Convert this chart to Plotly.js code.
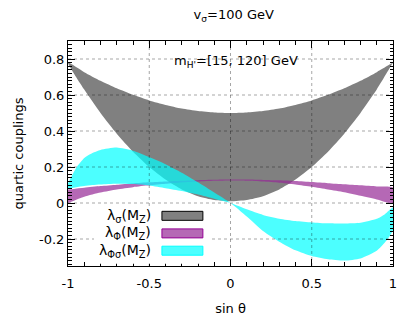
<!DOCTYPE html>
<html>
<head>
<meta charset="utf-8">
<script src="https://cdn.plot.ly/plotly-3.0.1.min.js"></script>
<style>html,body{margin:0;padding:0;background:#fff;}</style>
</head>
<body>
<div id="chart" style="width:407px;height:323px;"></div>
<script>
// sin(theta) sample points
const xGray = [-1,-0.9,-0.8,-0.7,-0.6,-0.5,-0.4,-0.3,-0.2,-0.1,0,0.1,0.2,0.3,0.4,0.5,0.6,0.7,0.8,0.9,1];
const sigmaUpper = [0.78,0.727,0.679,0.637,0.601,0.57,0.545,0.525,0.511,0.503,0.5,0.503,0.511,0.525,0.545,0.57,0.601,0.637,0.679,0.727,0.78];
const sigmaLower = [0.78,0.63,0.5,0.385,0.285,0.2,0.13,0.075,0.038,0.017,0.01,0.017,0.038,0.075,0.13,0.2,0.285,0.385,0.5,0.63,0.78];

const xPhi = [-1,-0.9,-0.8,-0.7,-0.6,-0.5,-0.4,-0.3,-0.2,-0.1,0,0.1,0.2,0.3,0.4,0.5,0.6,0.7,0.8,0.9,1];
const phiUpper = [0.075,0.085,0.094,0.102,0.109,0.115,0.12,0.124,0.127,0.129,0.13,0.13,0.128,0.126,0.122,0.116,0.11,0.104,0.098,0.092,0.085];
const phiLower = [0.0,0.035,0.058,0.075,0.088,0.098,0.107,0.114,0.119,0.123,0.125,0.124,0.12,0.113,0.103,0.09,0.075,0.06,0.04,0.02,0.0];

const xMix = [-1,-0.95,-0.9,-0.85,-0.8,-0.7,-0.6,-0.5,-0.4,-0.3,-0.2,-0.1,0,0.1,0.2,0.3,0.4,0.5,0.6,0.7,0.8,0.9,0.95,1];
const mixEdgeA = [0.11,0.195,0.25,0.278,0.295,0.308,0.29,0.255,0.215,0.168,0.115,0.058,0,-0.075,-0.155,-0.215,-0.263,-0.295,-0.313,-0.32,-0.308,-0.265,-0.22,-0.15];
const mixEdgeB = [0.08,0.088,0.095,0.1,0.103,0.107,0.105,0.097,0.082,0.066,0.047,0.024,0,-0.035,-0.066,-0.087,-0.1,-0.108,-0.113,-0.114,-0.11,-0.088,-0.062,-0.025];

const xTicks = [-1,-0.5,0,0.5,1];
const xTickText = ['-1','-0.5','0','0.5','1'];
const yTicks = [-0.2,0,0.2,0.4,0.6,0.8];
const yTickText = ['-0.2','0','0.2','0.4','0.6','0.8'];

const legendLabels = ['λ<sub>σ</sub>(M<sub>Z</sub>)','λ<sub>Φ</sub>(M<sub>Z</sub>)','λ<sub>Φσ</sub>(M<sub>Z</sub>)'];

const fills = ['rgb(128,128,128)','rgba(150,40,150,0.7)','rgba(0,255,255,0.7)'];
const borders = ['rgb(0,0,0)','rgb(150,0,150)','rgb(0,255,255)'];

function band(x, up, lo, color){
  return {
    x: x.concat(x.slice().reverse()),
    y: up.concat(lo.slice().reverse()),
    type:'scatter', mode:'lines', fill:'toself', fillcolor:color,
    line:{width:0, color:color, shape:'spline', smoothing:0.6}, hoverinfo:'skip', showlegend:false
  };
}

const data = [
  band(xGray, sigmaUpper, sigmaLower, fills[0]),
  band(xPhi, phiUpper, phiLower, fills[1]),
  band(xMix, mixEdgeA, mixEdgeB, fills[2])
];

const shapes = [];
const gridColor = 'rgba(0,0,0,0.35)';
xTicks.slice(1,-1).forEach(v => shapes.push({type:'line', xref:'x', yref:'paper', x0:v, x1:v, y0:0, y1:1, layer:'above', line:{color:gridColor, width:1, dash:'dot'}}));
yTicks.forEach(v => shapes.push({type:'line', xref:'paper', yref:'y', x0:0, x1:1, y0:v, y1:v, layer:'above', line:{color:gridColor, width:1, dash:'dot'}}));
// opaque legend background
shapes.push({type:'rect', xref:'paper', yref:'paper', x0:0.08, x1:0.44, y0:0.01, y1:0.26, layer:'above', fillcolor:'#fff', line:{width:0}});

const annotations = [
  {text:'m<sub>H\'</sub>=[15, 120] GeV', xref:'paper', yref:'paper', x:0.516, y:0.911, xanchor:'center', yanchor:'middle', showarrow:false, font:{family:'DejaVu Sans', size:13, color:'#000'}}
];
const rowY = [0.223, 0.145, 0.068];
legendLabels.forEach((t,i) => {
  annotations.push({text:t, xref:'paper', yref:'paper', x:0.262, y:rowY[i], xanchor:'right', yanchor:'middle', showarrow:false, font:{family:'DejaVu Sans', size:14, color:'#000'}});
  shapes.push({type:'rect', xref:'paper', yref:'paper', x0:0.289, x1:0.415, y0:rowY[i]-0.02, y1:rowY[i]+0.02, layer:'above', fillcolor:fills[i], line:{color:borders[i], width:1}});
});

const axFont = {family:'DejaVu Sans', size:13, color:'#000'};
const layout = {
  width:407, height:323,
  margin:{l:68, r:14, t:41, b:57},
  paper_bgcolor:'#fff', plot_bgcolor:'#fff',
  font: axFont,
  showlegend:false,
  title:{text:'v<sub>σ</sub>=100 GeV', xref:'paper', x:0.51, xanchor:'center', yref:'container', y:0.955, yanchor:'middle', font:axFont},
  xaxis:{
    range:[-1,1], tickmode:'array', tickvals:xTicks, ticktext:xTickText,
    ticks:'inside', ticklen:7, tickcolor:'#000', tickwidth:1, ticklabelstandoff:5,
    showline:true, linecolor:'#000', linewidth:1, mirror:'allticks',
    showgrid:false, zeroline:false, tickfont:axFont,
    minor:{tickmode:'linear', tick0:0, dtick:0.1, ticks:'inside', ticklen:4, tickcolor:'#000', showgrid:false},
    title:{text:'sin θ', font:axFont, standoff:14}
  },
  yaxis:{
    range:[-0.35,0.9], tickmode:'array', tickvals:yTicks, ticktext:yTickText,
    ticks:'inside', ticklen:7, tickcolor:'#000', tickwidth:1,
    showline:true, linecolor:'#000', linewidth:1, mirror:'allticks',
    showgrid:false, zeroline:false, tickfont:axFont,
    minor:{tickmode:'linear', tick0:0, dtick:0.02, ticks:'inside', ticklen:3.5, tickcolor:'#000', showgrid:false},
    title:{text:'quartic couplings', font:axFont, standoff:12}
  },
  shapes: shapes,
  annotations: annotations
};

Plotly.newPlot('chart', data, layout, {displayModeBar:false, staticPlot:true});
</script>
</body>
</html>
